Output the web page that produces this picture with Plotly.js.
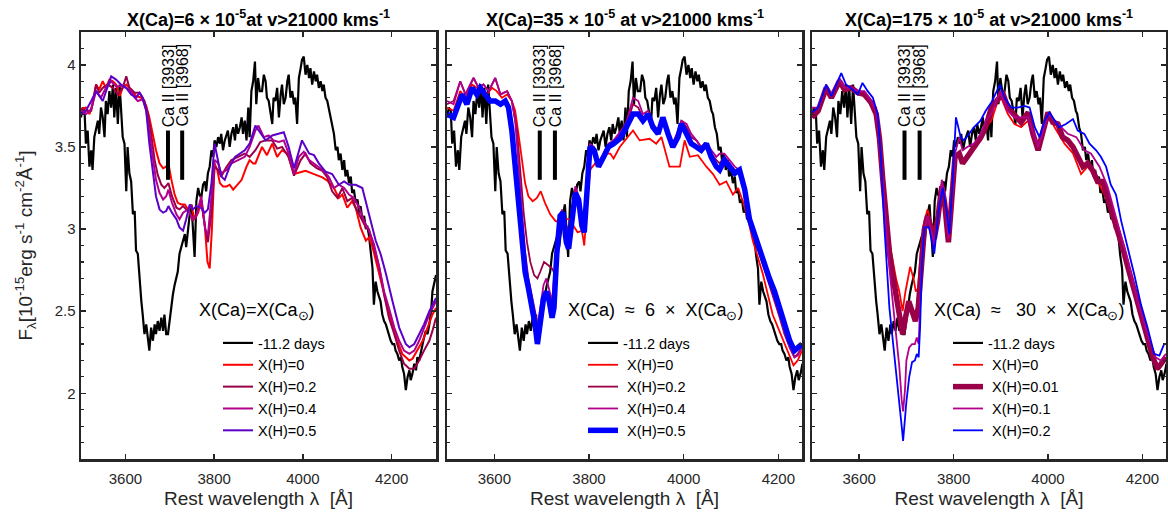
<!DOCTYPE html>
<html><head><meta charset="utf-8">
<script src="https://cdn.plot.ly/plotly-3.0.1.min.js"></script>
<style>html,body{margin:0;padding:0;background:#fff}#chart{width:1168px;height:520px}</style>
</head><body><div id="chart"></div>
<script>
// ---------- observed spectrum (-11.2 days) ----------
const obsWave = [3500,3504,3508,3511,3515,3519,3523,3526,3530,3534,3538,3541,3545,3549,3553,3556,3560,3564,3568,3572,3575,3579,3583,3587,3590,3594,3598,3602,3605,3609,3613,3617,3621,3624,3628,3632,3636,3639,3643,3647,3651,3654,3658,3662,3666,3669,3673,3677,3681,3685,3688,3692,3696,3700,3703,3707,3711,3715,3718,3722,3726,3730,3734,3737,3741,3745,3749,3752,3756,3760,3764,3767,3771,3775,3779,3782,3786,3790,3794,3798,3801,3805,3809,3813,3816,3820,3824,3831,3835,3839,3843,3847,3850,3854,3858,3862,3865,3869,3873,3877,3880,3884,3888,3892,3895,3899,3903,3908,3912,3916,3919,3923,3927,3931,3934,3938,3942,3946,3950,3953,3957,3961,3965,3968,3972,3976,3980,3983,3987,3991,3995,3998,4002,4006,4010,4014,4017,4021,4025,4029,4032,4036,4040,4044,4047,4051,4055,4059,4062,4066,4070,4074,4078,4081,4085,4089,4093,4096,4100,4104,4108,4111,4115,4119,4123,4127,4130,4134,4138,4142,4145,4149,4153,4157,4160,4164,4168,4172,4175,4179,4183,4187,4191,4194,4198,4202,4206,4209,4213,4217,4221,4224,4228,4232,4236,4240,4243,4247,4251,4255,4258,4262,4266,4270,4273,4277,4281,4285,4289,4292,4296,4300];
const obsFlux = [3.68,3.74,3.72,3.52,3.60,3.38,3.48,3.36,3.56,3.62,3.66,3.58,3.74,3.68,3.56,3.78,3.70,3.84,3.74,3.88,3.68,3.86,3.64,3.88,3.74,3.56,3.52,3.23,3.50,3.34,3.29,3.09,3.11,2.87,2.85,2.68,2.56,2.48,2.36,2.42,2.32,2.26,2.40,2.32,2.42,2.36,2.44,2.38,2.46,2.38,2.48,2.36,2.36,2.46,2.52,2.60,2.66,2.70,2.74,2.85,2.89,2.93,2.97,2.89,3.01,3.09,3.15,3.03,2.83,3.17,3.25,3.21,3.19,3.27,3.29,3.23,3.34,3.38,3.48,3.44,3.54,3.50,3.56,3.52,3.58,3.48,3.54,3.60,3.50,3.58,3.62,3.54,3.64,3.58,3.62,3.68,3.58,3.66,3.54,3.74,3.56,3.84,3.90,4.02,3.76,3.92,3.84,3.84,3.94,3.90,3.80,3.78,3.70,3.64,3.80,3.78,3.86,3.68,3.82,3.88,3.76,3.80,3.90,3.94,3.80,3.84,3.76,3.80,3.64,3.92,3.98,4.03,4.05,3.94,4.00,3.92,3.98,3.88,3.96,3.90,3.94,3.86,3.90,3.84,3.88,3.80,3.78,3.72,3.70,3.62,3.58,3.48,3.50,3.42,3.46,3.36,3.42,3.32,3.36,3.28,3.32,3.22,3.24,3.16,3.18,3.10,3.14,3.06,3.08,3.00,3.02,2.96,2.84,2.76,2.54,2.68,2.62,2.58,2.56,2.48,2.44,2.42,2.38,2.36,2.32,2.30,2.30,2.26,2.24,2.20,2.22,2.16,2.12,2.02,2.10,2.14,2.08,2.12,2.18,2.14,2.22,2.20,2.26,2.30,2.34,2.38,2.36,2.42,2.50,2.62,2.68,2.72];

// ---------- Panel 1 models: X(Ca)=6e-5 ----------
const p1H0w = [3500,3511,3519,3526,3534,3541,3549,3556,3564,3572,3579,3587,3594,3602,3613,3624,3636,3647,3654,3662,3669,3677,3685,3692,3697,3703,3711,3718,3726,3734,3741,3749,3756,3764,3771,3779,3785,3790,3795,3801,3807,3813,3820,3828,3835,3843,3850,3862,3873,3880,3888,3893,3908,3919,3931,3942,3953,3965,3980,3991,4006,4025,4044,4055,4070,4081,4089,4100,4111,4119,4130,4142,4149,4157,4168,4179,4191,4202,4213,4224,4240,4247,4258,4270,4281,4292,4300];
const p1H0f = [3.73,3.74,3.70,3.76,3.88,3.85,3.90,3.86,3.91,3.90,3.88,3.81,3.86,3.88,3.85,3.81,3.80,3.75,3.68,3.57,3.48,3.40,3.37,3.38,3.40,3.31,3.21,3.16,3.15,3.15,3.12,3.14,3.06,3.10,3.17,3.02,2.80,2.76,3.00,3.40,3.36,3.28,3.26,3.26,3.27,3.24,3.26,3.30,3.38,3.42,3.40,3.40,3.50,3.45,3.52,3.44,3.48,3.46,3.335,3.345,3.355,3.335,3.315,3.295,3.25,3.19,3.21,3.13,3.17,3.13,3.01,2.93,2.95,2.89,2.77,2.64,2.52,2.42,2.32,2.24,2.20,2.21,2.26,2.32,2.40,2.48,2.52];
const p1H02w = [3500,3511,3523,3534,3541,3549,3560,3572,3583,3594,3602,3609,3621,3632,3643,3651,3658,3666,3673,3681,3688,3697,3705,3715,3722,3730,3737,3745,3752,3760,3771,3780,3786,3794,3801,3809,3816,3828,3839,3854,3869,3880,3893,3904,3916,3931,3942,3953,3968,3980,3995,4006,4017,4032,4044,4055,4066,4078,4089,4100,4111,4119,4130,4142,4149,4160,4172,4183,4194,4206,4217,4228,4240,4251,4262,4273,4285,4292,4300];
const p1H02f = [3.73,3.72,3.72,3.88,3.83,3.86,3.88,3.86,3.82,3.86,3.93,3.86,3.83,3.83,3.78,3.70,3.58,3.42,3.33,3.27,3.25,3.28,3.20,3.13,3.12,3.14,3.12,3.10,3.05,3.09,3.18,3.00,2.92,3.10,3.38,3.36,3.32,3.38,3.42,3.44,3.46,3.44,3.48,3.53,3.54,3.54,3.49,3.50,3.44,3.325,3.42,3.46,3.40,3.37,3.355,3.315,3.23,3.19,3.25,3.17,3.19,3.13,3.07,3.01,3.00,2.89,2.77,2.60,2.46,2.36,2.26,2.18,2.15,2.15,2.20,2.26,2.32,2.38,2.46];
const p1H04w = [3500,3511,3523,3534,3545,3556,3568,3579,3590,3602,3613,3621,3628,3639,3647,3654,3662,3669,3677,3685,3692,3697,3705,3715,3722,3730,3741,3752,3760,3771,3780,3786,3794,3801,3809,3816,3828,3839,3854,3869,3880,3893,3900,3912,3923,3934,3946,3957,3968,3980,3991,4002,4014,4025,4036,4047,4059,4070,4081,4093,4104,4115,4127,4138,4149,4160,4172,4183,4194,4206,4217,4228,4240,4251,4262,4273,4285,4300];
const p1H04f = [3.72,3.70,3.73,3.84,3.80,3.86,3.90,3.87,3.87,3.86,3.84,3.80,3.78,3.79,3.72,3.58,3.42,3.30,3.22,3.18,3.20,3.24,3.16,3.09,3.06,3.10,3.12,3.06,3.08,3.20,3.00,2.96,3.20,3.42,3.40,3.34,3.36,3.40,3.42,3.44,3.50,3.60,3.63,3.56,3.57,3.54,3.53,3.54,3.46,3.335,3.44,3.47,3.42,3.40,3.38,3.355,3.315,3.25,3.27,3.25,3.21,3.19,3.13,3.05,2.99,2.91,2.77,2.62,2.52,2.40,2.32,2.26,2.24,2.26,2.32,2.40,2.48,2.56];
const p1H05w = [3500,3511,3523,3534,3549,3556,3568,3579,3590,3602,3613,3624,3632,3639,3647,3654,3662,3669,3677,3685,3692,3697,3705,3715,3722,3730,3737,3745,3752,3760,3770,3779,3786,3794,3801,3809,3816,3824,3835,3847,3858,3869,3880,3893,3916,3931,3957,3968,3980,3998,4014,4025,4036,4051,4066,4081,4093,4104,4119,4134,4149,4164,4175,4187,4202,4217,4232,4240,4251,4262,4273,4285,4300];
const p1H05f = [3.70,3.72,3.78,3.84,3.78,3.84,3.93,3.91,3.88,3.86,3.82,3.80,3.83,3.80,3.72,3.52,3.35,3.20,3.12,3.10,3.11,3.14,3.10,3.06,3.01,2.99,3.06,3.15,3.12,3.14,3.13,3.10,3.12,3.28,3.52,3.42,3.32,3.30,3.38,3.44,3.46,3.48,3.52,3.63,3.54,3.57,3.59,3.50,3.37,3.54,3.46,3.45,3.40,3.35,3.335,3.27,3.29,3.27,3.27,3.25,3.09,2.93,2.85,2.73,2.56,2.40,2.30,2.28,2.30,2.36,2.42,2.50,2.58];

// ---------- Panel 2 models: X(Ca)=35e-5 ----------
const p2H0w = [3500,3514,3528,3539,3553,3563,3574,3584,3595,3605,3616,3627,3637,3644,3651,3658,3665,3672,3681,3690,3698,3707,3718,3729,3739,3750,3759,3767,3776,3785,3790,3795,3802,3813,3823,3834,3845,3852,3865,3893,3907,3928,3942,3953,3970,3992,4002,4013,4030,4048,4062,4076,4090,4104,4115,4125,4136,4146,4167,4188,4210,4224,4232,4241,4250];
const p2H0f = [3.74,3.72,3.84,3.80,3.88,3.86,3.86,3.82,3.86,3.84,3.80,3.82,3.78,3.72,3.58,3.42,3.28,3.20,3.17,3.19,3.23,3.16,3.09,3.05,3.04,3.06,3.06,3.02,2.98,2.99,2.90,3.10,3.36,3.40,3.42,3.46,3.46,3.43,3.50,3.60,3.54,3.55,3.52,3.56,3.38,3.38,3.54,3.44,3.45,3.38,3.335,3.27,3.29,3.21,3.25,3.17,3.06,2.93,2.73,2.48,2.32,2.22,2.17,2.20,2.26];
const p2H02w = [3500,3514,3528,3539,3556,3567,3577,3588,3602,3613,3627,3637,3648,3655,3662,3669,3676,3684,3691,3697,3705,3714,3722,3729,3736,3743,3750,3757,3764,3771,3778,3785,3792,3802,3813,3820,3831,3845,3859,3869,3880,3893,3904,3914,3925,3935,3946,3956,3967,3977,3988,3995,4006,4016,4027,4037,4048,4058,4069,4076,4086,4097,4108,4118,4129,4139,4150,4160,4171,4181,4192,4203,4213,4224,4234,4241,4250];
const p2H02f = [3.76,3.78,3.90,3.82,3.92,3.86,3.88,3.84,3.92,3.82,3.84,3.78,3.60,3.35,3.10,2.92,2.80,2.72,2.70,2.74,2.80,2.78,2.76,2.72,2.96,3.08,3.04,2.98,3.02,3.24,3.16,3.00,3.10,3.50,3.46,3.38,3.45,3.52,3.56,3.58,3.64,3.76,3.74,3.68,3.70,3.64,3.60,3.68,3.60,3.52,3.58,3.66,3.62,3.56,3.54,3.50,3.52,3.46,3.42,3.40,3.44,3.40,3.36,3.35,3.22,3.04,2.94,2.86,2.76,2.66,2.56,2.46,2.36,2.28,2.22,2.24,2.28];
const p2H04w = [3500,3514,3528,3539,3556,3567,3577,3588,3602,3613,3627,3637,3644,3651,3658,3665,3672,3679,3686,3691,3697,3704,3710,3716,3722,3729,3735,3743,3752,3757,3764,3771,3778,3785,3790,3795,3802,3811,3820,3831,3841,3852,3862,3873,3880,3893,3904,3914,3925,3935,3946,3956,3967,3977,3988,3995,4006,4016,4027,4037,4048,4058,4069,4076,4086,4097,4108,4118,4129,4139,4150,4160,4171,4181,4192,4203,4213,4224,4234,4241,4250];
const p2H04f = [3.78,3.76,3.90,3.82,3.92,3.86,3.88,3.84,3.92,3.82,3.84,3.78,3.66,3.40,3.10,2.86,2.70,2.60,2.50,2.40,2.52,2.66,2.70,2.62,2.56,2.80,3.00,3.12,2.96,2.92,3.08,3.26,3.20,3.04,3.00,3.22,3.52,3.50,3.40,3.46,3.52,3.54,3.58,3.62,3.66,3.80,3.78,3.70,3.72,3.64,3.60,3.66,3.60,3.52,3.60,3.66,3.64,3.58,3.54,3.50,3.52,3.48,3.44,3.46,3.46,3.42,3.38,3.36,3.24,3.06,2.96,2.88,2.78,2.68,2.58,2.48,2.38,2.28,2.22,2.23,2.28];
const p2H05w = [3500,3514,3532,3542,3553,3563,3570,3581,3591,3602,3613,3623,3630,3637,3644,3651,3658,3665,3672,3679,3686,3691,3697,3704,3710,3716,3722,3726,3732,3739,3745,3752,3757,3764,3771,3778,3785,3790,3795,3802,3811,3820,3831,3841,3852,3865,3879,3893,3904,3914,3925,3935,3946,3956,3967,3977,3988,3995,4006,4016,4027,4037,4048,4058,4069,4076,4086,4097,4108,4118,4129,4139,4150,4160,4171,4181,4192,4203,4213,4224,4234,4241,4250];
const p2H05f = [3.70,3.68,3.82,3.76,3.86,3.82,3.86,3.82,3.78,3.78,3.76,3.78,3.74,3.60,3.40,3.16,2.92,2.74,2.64,2.54,2.42,2.30,2.44,2.58,2.62,2.56,2.46,2.52,2.85,3.08,3.10,2.92,2.88,3.05,3.22,3.18,3.02,2.98,3.20,3.50,3.48,3.38,3.44,3.50,3.52,3.55,3.62,3.70,3.70,3.66,3.70,3.62,3.58,3.68,3.58,3.50,3.56,3.64,3.58,3.52,3.50,3.48,3.52,3.44,3.38,3.36,3.42,3.38,3.34,3.36,3.24,3.06,2.96,2.88,2.78,2.70,2.62,2.52,2.42,2.32,2.26,2.28,2.30];

// ---------- Panel 3 models: X(Ca)=175e-5 ----------
const p3H0w = [3500,3513,3530,3541,3558,3569,3583,3597,3611,3625,3636,3643,3650,3657,3664,3671,3678,3685,3692,3698,3708,3715,3720,3725,3731,3738,3745,3752,3759,3766,3775,3781,3789,3794,3803,3812,3819,3829,3843,3858,3868,3880,3898,3915,3929,3943,3958,3979,4000,4014,4035,4053,4070,4084,4098,4109,4126,4148,4169,4190,4211,4232,4246];
const p3H0f = [3.70,3.72,3.86,3.80,3.89,3.84,3.85,3.82,3.82,3.78,3.74,3.60,3.36,3.10,2.92,2.80,2.70,2.62,2.50,2.62,2.77,2.70,2.62,2.64,2.90,3.05,3.12,3.04,3.00,3.10,3.24,3.14,2.95,3.10,3.46,3.46,3.40,3.44,3.50,3.54,3.62,3.66,3.82,3.70,3.64,3.62,3.66,3.50,3.70,3.62,3.52,3.46,3.335,3.38,3.355,3.27,3.17,2.99,2.77,2.54,2.32,2.14,2.20];
const p3H001w = [3500,3513,3530,3541,3558,3569,3583,3597,3611,3625,3636,3643,3650,3657,3664,3671,3678,3685,3692,3698,3705,3712,3719,3725,3731,3738,3745,3752,3759,3766,3775,3781,3789,3794,3803,3812,3819,3829,3843,3858,3868,3880,3894,3905,3915,3929,3943,3958,3968,3979,3989,4000,4010,4021,4031,4042,4053,4063,4074,4084,4095,4105,4116,4126,4137,4148,4158,4169,4179,4190,4200,4211,4222,4232,4243,4250];
const p3H001f = [3.68,3.72,3.86,3.80,3.90,3.85,3.86,3.83,3.82,3.77,3.70,3.55,3.30,3.05,2.86,2.72,2.60,2.46,2.36,2.46,2.56,2.50,2.44,2.52,2.80,3.00,3.08,3.00,2.94,3.05,3.26,3.16,2.92,3.10,3.44,3.46,3.40,3.44,3.50,3.56,3.62,3.74,3.79,3.82,3.74,3.69,3.65,3.71,3.58,3.48,3.58,3.71,3.65,3.64,3.56,3.54,3.50,3.44,3.38,3.40,3.355,3.29,3.29,3.19,3.09,2.99,2.89,2.77,2.66,2.54,2.44,2.32,2.22,2.15,2.20,2.22];
const p3H01w = [3500,3513,3530,3541,3558,3569,3583,3597,3611,3625,3636,3643,3650,3657,3664,3671,3678,3685,3690,3693,3697,3700,3706,3712,3718,3722,3726,3729,3733,3738,3745,3752,3759,3766,3775,3781,3789,3794,3803,3812,3819,3829,3843,3858,3868,3880,3898,3915,3929,3943,3958,3979,4000,4021,4042,4060,4077,4091,4109,4126,4148,4169,4190,4211,4228,4239,4250];
const p3H01f = [3.74,3.74,3.88,3.82,3.92,3.86,3.86,3.84,3.84,3.78,3.72,3.55,3.28,3.00,2.76,2.56,2.36,2.16,1.96,1.89,2.02,2.20,2.28,2.30,2.30,2.34,2.30,2.50,2.85,3.00,3.08,3.00,2.90,3.05,3.30,3.22,2.94,3.08,3.46,3.56,3.48,3.50,3.52,3.58,3.66,3.70,3.84,3.72,3.68,3.68,3.68,3.50,3.70,3.64,3.58,3.56,3.48,3.46,3.38,3.26,3.03,2.81,2.56,2.36,2.22,2.20,2.24];
const p3H02w = [3500,3513,3530,3541,3562,3572,3586,3597,3607,3618,3629,3639,3646,3653,3664,3675,3685,3690,3693,3697,3700,3706,3712,3718,3722,3726,3729,3733,3738,3748,3759,3769,3777,3784,3791,3798,3805,3815,3822,3833,3843,3857,3868,3880,3898,3908,3922,3936,3950,3961,3972,3982,3993,4003,4014,4024,4038,4053,4063,4077,4088,4102,4112,4123,4133,4144,4155,4169,4183,4197,4211,4225,4236,4246];
const p3H02f = [3.71,3.74,3.88,3.81,3.95,3.88,3.85,3.82,3.89,3.84,3.80,3.70,3.44,3.03,2.52,2.22,1.98,1.80,1.71,1.85,1.95,2.10,2.19,2.20,2.24,2.22,2.40,2.80,3.01,3.01,2.85,3.13,3.25,3.13,2.97,3.29,3.68,3.56,3.54,3.58,3.62,3.66,3.72,3.77,3.88,3.80,3.74,3.74,3.75,3.74,3.62,3.56,3.66,3.71,3.66,3.62,3.64,3.67,3.60,3.58,3.52,3.48,3.44,3.38,3.27,3.21,3.05,2.89,2.72,2.54,2.40,2.24,2.23,2.30];

// ---------- labels ----------
const panelTitles = ['X(Ca)=6 × 10<sup>-5</sup>at v&gt;21000 kms<sup>-1</sup>',
                     'X(Ca)=35 × 10<sup>-5</sup> at v&gt;21000 kms<sup>-1</sup>',
                     'X(Ca)=175 × 10<sup>-5</sup> at v&gt;21000 kms<sup>-1</sup>'];
const legendTitles = ['X(Ca)=X(Ca<sub>⊙</sub>)',
                      'X(Ca)\u00a0\u00a0≈\u00a0\u00a06\u00a0\u00a0×\u00a0\u00a0X(Ca<sub>⊙</sub>)',
                      'X(Ca)\u00a0\u00a0≈\u00a0\u00a0\u00a030\u00a0\u00a0×\u00a0\u00a0X(Ca<sub>⊙</sub>)'];
const obsLabel = '-11.2 days';
const p1Names = ['X(H)=0','X(H)=0.2','X(H)=0.4','X(H)=0.5'];
const p2Names = ['\u00a0X(H)=0','\u00a0X(H)=0.2','\u00a0X(H)=0.4','\u00a0X(H)=0.5'];
const p3Names = ['\u00a0X(H)=0','\u00a0X(H)=0.01','\u00a0X(H)=0.1','\u00a0X(H)=0.2'];
const caWave = [3696, 3728];
const caLabels = ['Ca II [3933]', 'Ca II [3968]'];
const xRanges = [[3500,4300],[3500,4250],[3500,4250]];

// ---------- styling ----------
const FONT = 'Arial, "Liberation Sans", Helvetica, sans-serif';
const AX = '#262626';
const W = 1168, H = 520;
const colRed = '#ff0000', colCrimson = '#990047', colMagenta = '#b0008c', colViolet = '#5c00c8', colBlue = '#0000ff';
const panelsPx = [[81,436],[447,802],[812,1166]];
const yTopPx = 32, yBotPx = 459;

const panels = [
  {series:[[obsWave,obsFlux,'#000',2.2,obsLabel],[p1H0w,p1H0f,colRed,2,p1Names[0]],[p1H02w,p1H02f,colCrimson,2,p1Names[1]],[p1H04w,p1H04f,colMagenta,2,p1Names[2]],[p1H05w,p1H05f,colViolet,2,p1Names[3]]],
   legText:258, legTitleX:257},
  {series:[[obsWave,obsFlux,'#000',2.2,obsLabel],[p2H0w,p2H0f,colRed,1.8,p2Names[0]],[p2H02w,p2H02f,colCrimson,1.8,p2Names[1]],[p2H04w,p2H04f,colMagenta,1.8,p2Names[2]],[p2H05w,p2H05f,colBlue,5.5,p2Names[3]]],
   legText:623, legTitleX:655},
  {series:[[obsWave,obsFlux,'#000',2.2,obsLabel],[p3H0w,p3H0f,colRed,1.8,p3Names[0]],[p3H001w,p3H001f,colCrimson,5.5,p3Names[1]],[p3H01w,p3H01f,colMagenta,1.8,p3Names[2]],[p3H02w,p3H02f,colBlue,1.8,p3Names[3]]],
   legText:988, legTitleX:1029}
];

const traces = [];
const layout = {
  width: W, height: H, margin:{l:0,r:0,t:0,b:0},
  paper_bgcolor:'#fff', plot_bgcolor:'#fff', showlegend:true,
  font:{family:FONT, color:'#000'},
  annotations:[]
};

panels.forEach((p, i) => {
  const sfx = i === 0 ? '' : String(i+1);
  const xa = 'x' + sfx, ya = 'y' + sfx;
  const legName = 'legend' + sfx;
  p.series.forEach((s, k) => {
    traces.push({type:'scatter', mode:'lines', x:s[0], y:s[1], name:s[4],
      line:{color:s[2], width:s[3]}, xaxis:xa, yaxis:ya, legend:legName,
      legendgroup:'g'+i+'_'+k, hoverinfo:'skip'});
  });
  // Ca II marker bars
  const bx = [], by = [];
  caWave.forEach(w => { bx.push(w, w, null); by.push(3.3, 3.6, null); });
  traces.push({type:'scatter', mode:'lines', x:bx, y:by, showlegend:false,
    line:{color:'#000', width:4}, xaxis:xa, yaxis:ya, hoverinfo:'skip'});
  caWave.forEach((w, j) => {
    layout.annotations.push({xref:xa, yref:ya, x:w, y:3.61, text:caLabels[j], textangle:-90,
      showarrow:false, xanchor:'center', yanchor:'bottom', font:{family:FONT, size:16, color:'#000'}});
  });

  const d0 = panelsPx[i][0]/W, d1 = panelsPx[i][1]/W;
  layout['xaxis'+sfx] = {
    domain:[d0,d1], anchor:ya, range:xRanges[i], tickmode:'linear', tick0:0, dtick:200,
    showline:true, linecolor:AX, linewidth:2.5, mirror:'ticks', ticks:'inside', ticklen:5, tickwidth:1.5, tickcolor:AX,
    showgrid:false, zeroline:false, tickfont:{family:FONT, size:15, color:AX}, ticklabelstandoff:4,
    title:{text:'Rest wavelength λ\u00a0\u00a0[Å]', font:{family:FONT, size:19, color:AX}, standoff:6}
  };
  layout['yaxis'+sfx] = {
    domain:[1-yBotPx/H, 1-yTopPx/H], anchor:xa, range:[1.6,4.2], tickmode:'linear', tick0:0, dtick:0.5,
    showline:true, linecolor:AX, linewidth:2.5, mirror:'ticks', ticks:'inside', ticklen:5, tickwidth:1.5, tickcolor:AX,
    minor:{dtick:0.1, ticks:'inside', ticklen:3, tickwidth:1.2, tickcolor:AX},
    showgrid:false, zeroline:false, showticklabels: i === 0, tickfont:{family:FONT, size:15, color:AX}
  };
  if (i === 0) {
    layout.yaxis.title = {text:'F<sub>λ</sub>[10<sup>-15</sup>erg s<sup>-1</sup> cm<sup>-2</sup>Å<sup>-1</sup>]', font:{family:FONT, size:19, color:AX}, standoff:17};
  }
  layout[legName] = {
    x:(p.legText-40)/W, y:1-327/H, xref:'paper', yref:'paper', xanchor:'left', yanchor:'top',
    bgcolor:'rgba(0,0,0,0)', borderwidth:0, font:{family:FONT, size:14.5, color:'#000'},
    tracegroupgap:0, itemclick:false, itemdoubleclick:false
  };
  // panel title
  layout.annotations.push({xref:'paper', yref:'paper', x:(panelsPx[i][0]+panelsPx[i][1])/2/W, y:1-19/H,
    text:'<b>'+panelTitles[i]+'</b>', showarrow:false, xanchor:'center', yanchor:'middle',
    font:{family:FONT, size:18, color:'#000'}});
  // legend heading
  layout.annotations.push({xref:'paper', yref:'paper', x:p.legTitleX/W, y:1-311/H,
    text:legendTitles[i], showarrow:false, xanchor:'center', yanchor:'middle',
    font:{family:FONT, size:18, color:'#000'}});
});

Plotly.newPlot('chart', traces, layout, {staticPlot:true, displayModeBar:false});
</script>
</body></html>
